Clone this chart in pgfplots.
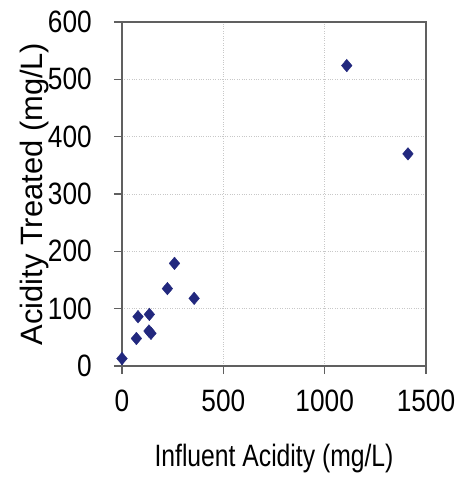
\documentclass[border=0pt]{standalone}
\usepackage{fontspec}
\setmainfont{Liberation Sans}
\newfontfamily\tickfont[FakeStretch=0.85]{Liberation Sans}
\newfontfamily\xlabfont[FakeStretch=0.8]{Liberation Sans}
\usepackage{pgfplots}
\pgfplotsset{compat=1.18}
\definecolor{navy}{HTML}{22287E}
\definecolor{framegray}{HTML}{606060}
\definecolor{gridgray}{HTML}{C8C8C8}
\begin{document}
\begin{tikzpicture}
\path[use as bounding box] (-122bp,-112bp) rectangle (341bp,366bp);
\begin{axis}[
  at={(0,0)}, anchor=south west,
  scale only axis, width=304bp, height=344bp,
  xmin=0, xmax=1500, ymin=0, ymax=600,
  xtick={0,500,1000,1500}, ytick={0,100,...,600},
  axis line style={framegray, line width=1.2bp},
  grid=major,
  major grid style={gridgray, dotted, line width=0.8bp},
  tick align=outside, tick pos=left,
  major tick length=8bp,
  tick style={framegray, line width=1.2bp},
  /pgf/number format/assume math mode=true,
  /pgf/number format/1000 sep={},
  tick label style={font=\tickfont\fontsize{31}{31}\selectfont, inner sep=0pt},
  yticklabel style={anchor=east, xshift=-22bp},
  xticklabel style={anchor=north, yshift=-16bp},
  xlabel={\xlabfont\fontsize{31}{31}\selectfont Influent Acidity (mg/L)},
  ylabel={\fontsize{31}{31}\selectfont Acidity Treated (mg/L)},
  xlabel style={at={(axis description cs:0.5,-0.2936)}, anchor=base, inner sep=0pt},
  ylabel style={at={(axis description cs:-0.2599,0.5)}, anchor=base, inner sep=0pt},
]
\addplot[only marks, mark=diamond*, mark size=6.3bp, mark options={fill=navy, draw=navy, xscale=1.12}] coordinates {
(0,13) (71,48) (79,86) (135,90) (133,61) (143,57) (224,135) (259,179) (356,118) (1109,524) (1411,370)
};
\end{axis}
\end{tikzpicture}
\end{document}
